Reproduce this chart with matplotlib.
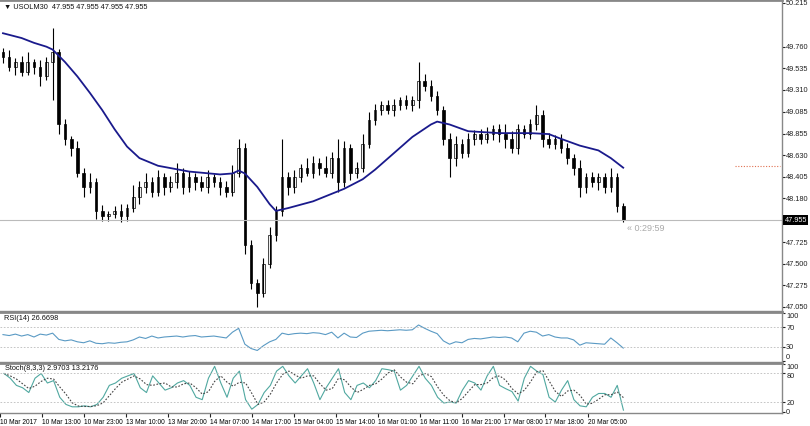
import matplotlib
matplotlib.use("Agg")
import matplotlib.pyplot as plt
import numpy as np

plt.rcParams['font.family'] = ['Liberation Sans', 'DejaVu Sans']

closes = [49.65,49.55,49.6,49.5,49.6,49.55,49.45,49.6,49.7,48.95,
          48.8,48.7,48.45,48.3,48.35,48.05,48.0,48.02,48.05,48.0,
          48.08,48.2,48.3,48.35,48.25,48.4,48.3,48.35,48.45,48.3,
          48.4,48.35,48.3,48.4,48.35,48.3,48.25,48.45,48.7,47.7,
          47.3,47.2,47.5,47.8,48.05,48.4,48.3,48.4,48.5,48.45,
          48.55,48.5,48.45,48.6,48.35,48.7,48.45,48.5,48.75,49.0,
          49.1,49.15,49.1,49.15,49.2,49.15,49.2,49.4,49.35,49.25,
          49.1,48.8,48.6,48.75,48.65,48.8,48.85,48.8,48.85,48.9,
          48.85,48.8,48.7,48.9,48.85,48.95,49.05,48.8,48.75,48.8,
          48.7,48.6,48.5,48.3,48.4,48.35,48.4,48.3,48.4,48.1,47.955]
first_open = 49.7
wick_up = [5,8,4,6,10,3,7,5,25,4, 6,3,8,5,10,4,6,3,5,7, 4,12,6,9,5,8,4,6,10,5,
           7,4,6,8,3,5,6,8,10,6, 5,4,6,8,5,40,6,8,4,10, 7,5,12,6,20,8,5,6,10,8,
           6,4,5,7,4,6,5,20,8,6, 5,4,6,8,5,6,4,5,7,4, 6,10,8,5,4,6,10,5,6,4,
           5,6,4,8,5,6,4,5,10,4,3]
wick_dn = [6,4,8,5,3,7,10,4,40,10, 6,8,5,10,6,8,5,6,4,7, 5,4,8,6,5,4,8,5,6,7,
           5,8,4,6,5,8,6,4,5,10, 6,15,5,4,6,5,8,6,5,4, 6,8,5,6,10,5,8,6,4,5,
           6,5,4,6,5,4,6,8,5,6, 5,6,20,8,5,4,6,5,4,6, 8,10,5,6,4,5,6,8,5,6,
           5,6,8,10,6,5,8,6,5,6,2]
ma_idx = [0,3,5,7,8,10,12,14,16,18,20,22,25,30,35,37,38,39,41,43,44,46,50,55,
          58,60,63,66,69,70,72,75,80,85,88,90,93,96,98,100]
ma_val = [49.9,49.85,49.8,49.76,49.73,49.6,49.45,49.28,49.1,48.9,48.72,48.6,48.52,
          48.46,48.43,48.44,48.47,48.44,48.3,48.12,48.05,48.08,48.15,48.28,
          48.38,48.48,48.65,48.82,48.95,48.98,48.95,48.88,48.86,48.86,48.85,
          48.8,48.73,48.68,48.6,48.5]
rsi = [55,53,56,52,55,50,56,54,58,45,42,44,40,38,42,37,36,38,37,39,
       40,44,50,47,52,48,50,51,52,50,52,53,50,51,52,50,48,60,68,35,
       26,22,32,40,45,58,55,57,58,57,59,58,55,60,48,58,50,49,58,62,
       63,64,63,64,65,64,65,75,68,62,57,42,35,40,38,45,47,46,48,50,
       49,50,48,40,58,62,60,52,55,50,48,48,44,33,38,37,36,35,48,38,27]
stoch = [80,70,55,50,40,70,80,60,65,30,15,10,10,12,10,15,30,55,60,70,
         75,80,50,40,75,60,45,50,60,65,55,30,25,70,95,60,30,70,85,25,
         5,15,40,55,85,95,75,60,75,90,60,25,50,70,90,40,25,55,60,50,
         65,90,88,85,45,55,75,95,70,55,30,18,20,18,45,65,60,45,75,95,
         55,48,42,22,70,95,85,78,30,20,45,65,25,12,10,30,38,38,30,55,3]
price_ticks = [50.215,49.760,49.535,49.310,49.085,48.855,48.630,48.405,48.180,
               47.725,47.500,47.275,47.050]
last_price = 47.955
alert_level = 48.516
time_labels = ["10 Mar 2017","10 Mar 13:00","10 Mar 23:00","13 Mar 10:00","13 Mar 20:00",
               "14 Mar 07:00","14 Mar 17:00","15 Mar 04:00","15 Mar 14:00","16 Mar 01:00",
               "16 Mar 11:00","16 Mar 21:00","17 Mar 08:00","17 Mar 18:00","20 Mar 05:00"]
time_pos = [-0.65,6.13,12.9,19.68,26.45,33.23,40.0,46.77,53.55,60.3,67.1,73.87,80.65,87.4,94.2]

n = len(closes)
x = np.arange(n)
opens = [first_open] + closes[:-1]
highs = [max(o, c) + w / 100 for o, c, w in zip(opens, closes, wick_up)]
lows = [min(o, c) - w / 100 for o, c, w in zip(opens, closes, wick_dn)]

FS = 5.3
FX = 4.8
fig = plt.figure(figsize=(8.1, 4.26), dpi=100)
W = 782 / 810
axm = fig.add_axes([0, 1 - 311 / 426, W, 311 / 426])
axr = fig.add_axes([0, 1 - 362 / 426, W, 50 / 426])
axs = fig.add_axes([0, 1 - 413 / 426, W, 50 / 426])
xl = (-0.48, 125.6)
grey = "#888888"
for a in (axm, axr, axs):
    a.set_xlim(*xl)
    a.yaxis.tick_right()
    a.tick_params(axis="y", labelsize=FS, length=2, pad=1, colors="#222222")
    a.tick_params(axis="x", length=0)
    a.set_xticks([])
    for s in a.spines.values():
        s.set_color(grey)
        s.set_linewidth(1)
    a.spines["left"].set_visible(False)
    a.spines["top"].set_linewidth(2)

for i in range(n):
    o, c, h, l = opens[i], closes[i], highs[i], lows[i]
    axm.vlines(i, l, h, color="black", lw=0.8)
    bull = c >= o
    axm.bar(i, max(abs(c - o), 0.004), bottom=min(o, c), width=0.42,
            color="white" if bull else "black", edgecolor="black", lw=0.5)
axm.plot(ma_idx, ma_val, color="#1a1a8c", lw=1.3)
axm.axhline(last_price, color="#bbbbbb", lw=0.8)
axm.plot([118.0, 125.3], [alert_level, alert_level], color="#e07050", lw=0.8, ls=(0, (1, 1.5)))
axm.set_ylim(47.008, 50.246)
axm.set_yticks(price_ticks)
axm.set_yticklabels([f"{v:.3f}" for v in price_ticks])
axm.text(126.0, last_price, f"{last_price:.3f}", fontsize=FS, color="white", va="center",
         ha="left", bbox=dict(facecolor="black", edgecolor="none", pad=0.8))
axm.text(100.6, 47.87, "« 0:29:59", fontsize=6.5, color="#aaaaaa", va="center")
axm.text(0.2, 50.17, "▼ USOLM30  47.955 47.955 47.955 47.955", fontsize=FS, va="center", color="#111111")

axr.plot(x, rsi, color="#5a9ac4", lw=0.8)
for lv in (70, 30):
    axr.axhline(lv, color="#bbbbbb", lw=0.6, ls=(0, (2, 2)))
axr.set_ylim(-2, 102)
axr.set_yticks([100, 70, 30, 0])
axr.text(0.2, 96, "RSI(14) 26.6698", fontsize=FS, va="top", color="#111111")
axr.get_yticklabels()[-1].set_va("bottom")
axr.get_yticklabels()[0].set_va("top")

sig = [np.mean(stoch[max(0, i - 2):i + 1]) for i in range(n)]
axs.plot(x, stoch, color="#50a8a0", lw=0.8)
axs.plot(x, sig, color="#444444", lw=0.8, ls=(0, (1.5, 1.5)))
for lv in (80, 20):
    axs.axhline(lv, color="#bbbbbb", lw=0.6, ls=(0, (2, 2)))
axs.set_ylim(-3, 102)
axs.set_yticks([100, 80, 20, 0])
axs.get_yticklabels()[0].set_va("top")
axs.get_yticklabels()[1].set_va("top")
axs.text(0.2, 97, "Stoch(8,3,3) 2.9703 13.2176", fontsize=FS, va="top", color="#111111")
axs.set_xticks(time_pos)
axs.set_xticklabels(time_labels, fontsize=FX, ha="left")
axs.tick_params(axis="x", length=3, pad=1, direction="out", color="#222222")

fig.savefig("out.png", dpi=100, facecolor="white")
